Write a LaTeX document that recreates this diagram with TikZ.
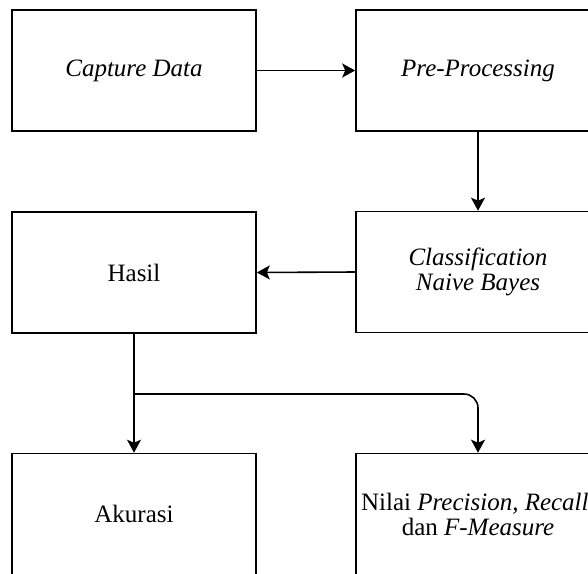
\documentclass[tikz,border=0pt]{standalone}
\usepackage{fontspec}
\setmainfont{Liberation Serif}
\usetikzlibrary{arrows.meta}
\begin{document}
\begin{tikzpicture}[x=1pt,y=-1pt,
  stepbox/.style={draw=black, line width=1.6pt, fill=white,
    minimum width=244pt, minimum height=121pt, inner sep=0pt,
    align=center, font=\fontsize{25}{25}\selectfont},
  flow/.style={line width=1.6pt, -{Stealth[length=13pt,width=14pt,inset=3pt]}}]
\useasboundingbox (0,0) rectangle (588,573);
\clip (0,0) rectangle (588,573);
\fill[white] (0,0) rectangle (588,573);

% process boxes
\node[stepbox] (cap) at (134,70.5) {\textit{Capture Data}};
\node[stepbox] (pre) at (478,70.5) {\textit{Pre-Processing}};
\node[stepbox] (cls) at (478,272) {\textit{Classification}\\\textit{Naive Bayes}};
\node[stepbox] (hasil) at (134,272.5) {Hasil};
\node[stepbox] (akurasi) at (134,514) {Akurasi};
\node[stepbox] (nilai) at (478,514) {Nilai \textit{Precision, Recall,}\\dan \textit{F-Measure}};

% connectors
\draw[flow] (cap.east) -- (pre.west);
\draw[flow] (pre.south) -- (cls.north);
\draw[flow] (cls.west) -- (hasil.east);
\draw[flow] (hasil.south) -- (akurasi.north);
\coordinate (split) at (134,394);
\draw[flow, rounded corners=14pt] (split) -| (nilai.north);
\end{tikzpicture}
\end{document}
